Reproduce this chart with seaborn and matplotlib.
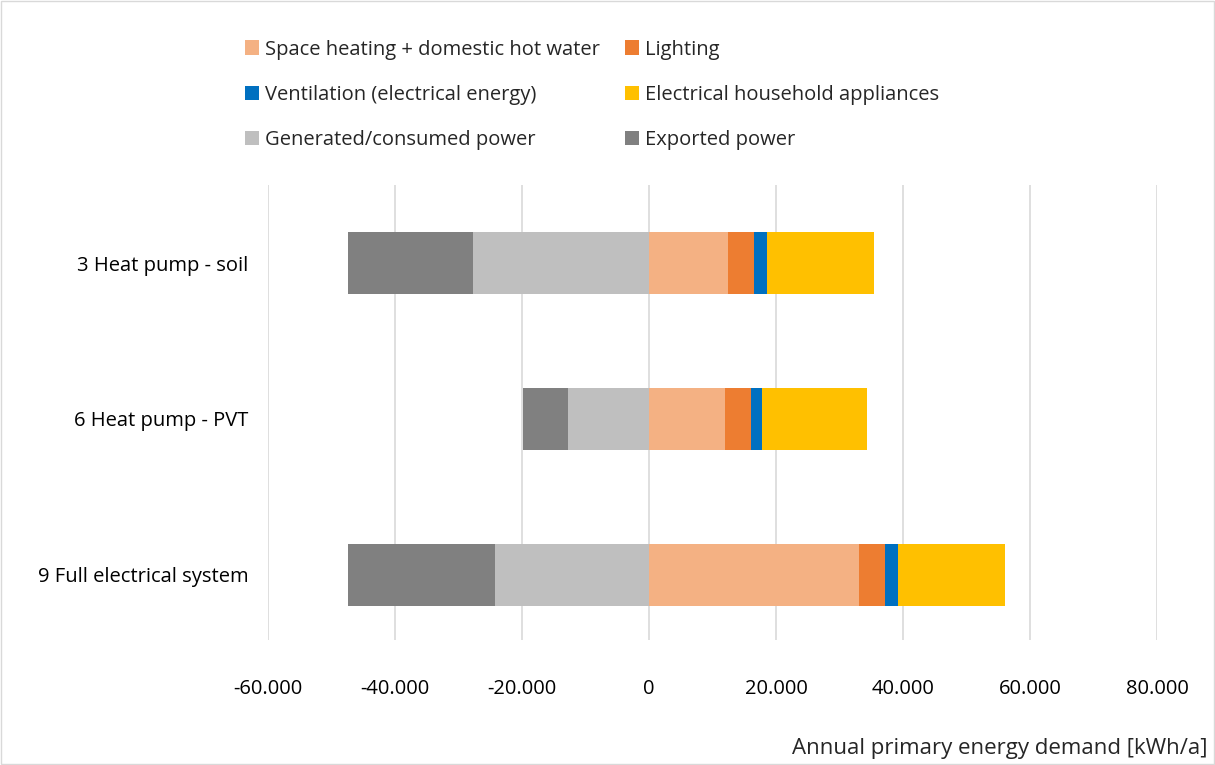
import pandas as pd
import numpy as np
import matplotlib
matplotlib.use('Agg')
import matplotlib.pyplot as plt
import seaborn as sns
from matplotlib.patches import Patch
from matplotlib.ticker import FuncFormatter

# data (kWh/a)
systems = ['3 Heat pump - soil', '6 Heat pump - PVT', '9 Full electrical system']
space_heating = [12440, 11900, 33130]
lighting = [4100, 4160, 4080]
ventilation = [2040, 1740, 1990]
appliances = [16900, 16560, 16900]
generated = [-27720, -12760, -24220]
exported = [-19680, -7160, -23180]

labels = ['Space heating + domestic hot water', 'Lighting',
          'Ventilation (electrical energy)', 'Electrical household appliances',
          'Generated/consumed power', 'Exported power']
colors = ['#F4B183', '#ED7D31', '#0070C0', '#FFC000', '#BFBFBF', '#808080']

df = pd.DataFrame({'system': systems, 'space': space_heating, 'light': lighting,
                   'vent': ventilation, 'app': appliances,
                   'gen': generated, 'exp': exported})
# cumulative ends, drawn longest first so shorter ones sit on top
df['c_space'] = df['space']
df['c_light'] = df['c_space'] + df['light']
df['c_vent'] = df['c_light'] + df['vent']
df['c_app'] = df['c_vent'] + df['app']
df['c_gen'] = df['gen']
df['c_exp'] = df['gen'] + df['exp']

sns.set_style('white')
plt.rcParams['font.family'] = ['Open Sans', 'DejaVu Sans']

fig = plt.figure(figsize=(12.15, 7.65), dpi=100)
ax = fig.add_axes([0.2206, 0.163, 0.7317, 0.595])

layers = [('c_app', 3), ('c_vent', 2), ('c_light', 1), ('c_space', 0),
          ('c_exp', 5), ('c_gen', 4)]
for col, ci in layers:
    sns.barplot(data=df, x=col, y='system', orient='h', color=colors[ci],
                saturation=1, width=0.4, ax=ax, linewidth=0)

ax.set_xlim(-60000, 80000)
ax.set_ylim(2.42, -0.5)
ax.set_xticks(np.arange(-60000, 80001, 20000))
ax.xaxis.set_major_formatter(FuncFormatter(lambda v, p: f'{int(v):,}'.replace(',', '.')))
ax.grid(axis='x', color='#D9D9D9', linewidth=1.2)
ax.set_axisbelow(True)
for s in ax.spines.values():
    s.set_visible(False)
ax.tick_params(axis='both', length=0, labelsize=14.5, colors='black')
ax.tick_params(axis='x', pad=28)
ax.tick_params(axis='y', pad=14)
ax.set_xlabel('')
ax.set_ylabel('')

fig.text(0.994, 0.008, 'Annual primary energy demand [kWh/a]', ha='right',
         va='bottom', fontsize=16)

order = [0, 2, 4, 1, 3, 5]
handles = [Patch(facecolor=colors[i], edgecolor='none') for i in order]
fig.legend(handles, [labels[i] for i in order], ncol=2, loc='upper left',
           bbox_to_anchor=(0.187, 0.972), frameon=False, fontsize=14.5,
           handlelength=0.7, handleheight=0.7, handletextpad=0.3,
           columnspacing=1.2, labelspacing=1.25)

# chart border
fig.patches.append(plt.Rectangle((0.001, 0.001), 0.998, 0.998, transform=fig.transFigure,
                                 fill=False, edgecolor='#D9D9D9', linewidth=1))

fig.savefig('out.png', dpi=100)
